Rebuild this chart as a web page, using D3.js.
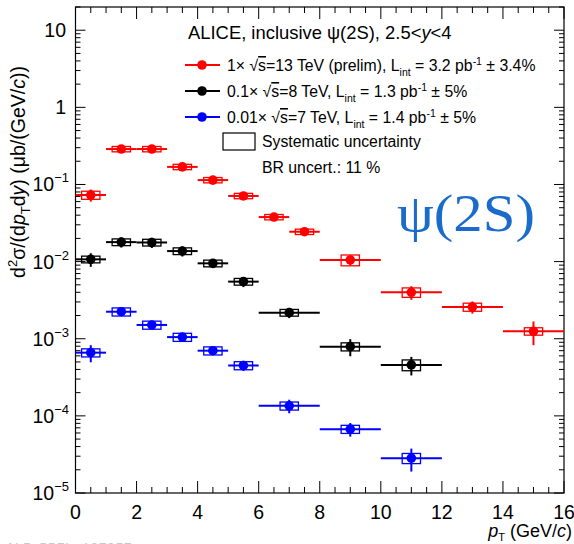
<!DOCTYPE html>
<html>
<head>
<meta charset="utf-8">
<script src="https://cdn.jsdelivr.net/npm/d3@7"></script>
<style>
  body { margin: 0; background: #fff; }
  svg { font-family: "Liberation Sans", Arial, sans-serif; }
</style>
</head>
<body>
<div id="chart"></div>
<script>
// bin edges and values (ub/(GeV/c))
var edges13 = [0, 1, 2, 3, 4, 5, 6, 7, 8, 10, 12, 14, 16];
var val13 = [0.073, 0.288, 0.288, 0.169, 0.114, 0.071, 0.0378, 0.0244, 0.0105, 0.0040, 0.00258, 0.00125];
var stat13 = [0.18, 0.04, 0.04, 0.05, 0.05, 0.06, 0.08, 0.08, 0.15, 0.2, 0.18, 0.34];
var syst13 = [0.12, 0.08, 0.08, 0.08, 0.08, 0.08, 0.08, 0.08, 0.16, 0.14, 0.12, 0.11];

var edges8 = [0, 1, 2, 3, 4, 5, 6, 8, 10, 12];
var val8 = [0.0107, 0.0179, 0.0177, 0.0137, 0.0095, 0.0055, 0.00218, 0.00079, 0.000458];
var stat8 = [0.2, 0.15, 0.15, 0.15, 0.13, 0.15, 0.15, 0.25, 0.27];
var syst8 = [0.1, 0.1, 0.1, 0.1, 0.1, 0.1, 0.1, 0.12, 0.16];

var edges7 = [0, 1, 2, 3, 4, 5, 6, 8, 10, 12];
var val7 = [0.00066, 0.00224, 0.00151, 0.00105, 0.0007, 0.00045, 0.000135, 0.0000673, 0.0000283];
var stat7 = [0.25, 0.1, 0.12, 0.12, 0.1, 0.15, 0.2, 0.2, 0.33];
var syst7 = [0.12, 0.12, 0.12, 0.12, 0.12, 0.12, 0.12, 0.12, 0.15];

var xTicks = [0, 2, 4, 6, 8, 10, 12, 14, 16];
var yExp = [1, 0, -1, -2, -3, -4, -5];

var svgWidth = 574, svgHeight = 544;
var mLeft = 75.5, mRight = 564, mTop = 7, mBottom = 493;

var svg = d3.select("#chart").append("svg")
  .attr("width", svgWidth)
  .attr("height", svgHeight);

var x = d3.scaleLinear().domain([0, 16]).range([mLeft, mRight]);
var y = d3.scaleLog().domain([1e-5, 20]).range([mBottom, mTop]);

// frame
svg.append("rect")
  .attr("x", mLeft).attr("y", mTop)
  .attr("width", mRight - mLeft).attr("height", mBottom - mTop)
  .attr("fill", "none").attr("stroke", "#000").attr("stroke-width", 1.2);

// x ticks (inside, top and bottom)
var xMinor = d3.range(0, 16.01, 0.5);
xMinor.forEach(function(v) {
  var major = (v % 2 === 0);
  var len = major ? 12 : 6;
  svg.append("line").attr("x1", x(v)).attr("x2", x(v))
    .attr("y1", mBottom).attr("y2", mBottom - len).attr("stroke", "#000");
  svg.append("line").attr("x1", x(v)).attr("x2", x(v))
    .attr("y1", mTop).attr("y2", mTop + len).attr("stroke", "#000");
});

svg.selectAll(".xlab").data(xTicks).enter().append("text")
  .attr("x", d => x(d))
  .attr("y", 519)
  .attr("text-anchor", "middle")
  .attr("font-size", 19.5)
  .text(d => d);

// y ticks (log)
var yTickVals = y.ticks().filter(d => d >= 1e-5 && d <= 20);
yTickVals.forEach(function(v) {
  var lg = Math.log10(v);
  var major = Math.abs(lg - Math.round(lg)) < 1e-6;
  var len = major ? 10 : 5;
  svg.append("line").attr("x1", mLeft).attr("x2", mLeft + len)
    .attr("y1", y(v)).attr("y2", y(v)).attr("stroke", "#000");
  svg.append("line").attr("x1", mRight).attr("x2", mRight - len)
    .attr("y1", y(v)).attr("y2", y(v)).attr("stroke", "#000");
});

yExp.forEach(function(e) {
  var t = svg.append("text")
    .attr("x", 69)
    .attr("y", y(Math.pow(10, e)) + 7)
    .attr("text-anchor", "end")
    .attr("font-size", 19.5);
  if (e === 1) t.attr("x", 66).text("10");
  else if (e === 0) t.attr("x", 66).text("1");
  else {
    t.append("tspan").text("10");
    t.append("tspan").attr("dy", -9).attr("font-size", 13).text("\u2212" + (-e));
  }
});

// axis titles
var yl = svg.append("text")
  .attr("transform", "translate(25,172) rotate(-90)")
  .attr("text-anchor", "middle")
  .attr("font-size", 19.5);
yl.append("tspan").text("d");
yl.append("tspan").attr("dy", -8).attr("font-size", 13).text("2");
yl.append("tspan").attr("dy", 8).text("\u03c3/(d");
yl.append("tspan").attr("font-style", "italic").text("p");
yl.append("tspan").attr("dy", 5).attr("font-size", 13).text("T");
yl.append("tspan").attr("dy", -5).text("d");
yl.append("tspan").attr("font-style", "italic").text("y");
yl.append("tspan").text(") (\u03bcb/(GeV/");
yl.append("tspan").attr("font-style", "italic").text("c");
yl.append("tspan").text("))");

var xl = svg.append("text")
  .attr("x", 572).attr("y", 537)
  .attr("text-anchor", "end")
  .attr("font-size", 18);
xl.append("tspan").attr("font-style", "italic").text("p");
xl.append("tspan").attr("dy", 4).attr("font-size", 11).text("T");
xl.append("tspan").attr("dy", -4).text(" (GeV/");
xl.append("tspan").attr("font-style", "italic").text("c");
xl.append("tspan").text(")");

// data series
function drawSeries(edges, vals, stat, syst, color) {
  var pts = vals.map(function(v, i) {
    return { lo: edges[i], hi: edges[i + 1], c: (edges[i] + edges[i + 1]) / 2, v: v, st: stat[i], sy: syst[i] };
  });
  var g = svg.append("g");
  g.selectAll(".hbar").data(pts).enter().append("line")
    .attr("x1", d => x(d.lo)).attr("x2", d => x(d.hi))
    .attr("y1", d => y(d.v)).attr("y2", d => y(d.v))
    .attr("stroke", color).attr("stroke-width", 2);
  g.selectAll(".vbar").data(pts).enter().append("line")
    .attr("x1", d => x(d.c)).attr("x2", d => x(d.c))
    .attr("y1", d => y(d.v * (1 + d.st))).attr("y2", d => y(d.v * (1 - d.st)))
    .attr("stroke", color).attr("stroke-width", 2);
  g.selectAll(".box").data(pts).enter().append("rect")
    .attr("x", d => x(d.c - 0.3)).attr("width", d => x(d.c + 0.3) - x(d.c - 0.3))
    .attr("y", d => y(d.v * (1 + d.sy)))
    .attr("height", d => y(d.v * (1 - d.sy)) - y(d.v * (1 + d.sy)))
    .attr("fill", "none").attr("stroke", color).attr("stroke-width", 1.3);
  g.selectAll(".dot").data(pts).enter().append("circle")
    .attr("cx", d => x(d.c)).attr("cy", d => y(d.v))
    .attr("r", 4.8).attr("fill", color);
}

drawSeries(edges13, val13, stat13, syst13, "#ff0000");
drawSeries(edges8, val8, stat8, syst8, "#000000");
drawSeries(edges7, val7, stat7, syst7, "#0000ff");

// legend
var title = svg.append("text").attr("x", 188).attr("y", 39).attr("font-size", 18.4);
title.append("tspan").text("ALICE, inclusive \u03c8(2S), 2.5<");
title.append("tspan").attr("font-style", "italic").text("y");
title.append("tspan").text("<4");

var legRows = [
  { color: "#ff0000", k: "1\u00d7 ", e: "=13 TeV (prelim), L", l: " = 3.2 pb", u: " \u00b1 3.4%", yy: 65 },
  { color: "#000000", k: "0.1\u00d7 ", e: "=8 TeV, L", l: " = 1.3 pb", u: " \u00b1 5%", yy: 91 },
  { color: "#0000ff", k: "0.01\u00d7 ", e: "=7 TeV, L", l: " = 1.4 pb", u: " \u00b1 5%", yy: 117 }
];
legRows.forEach(function(r) {
  svg.append("line").attr("x1", 185).attr("x2", 220).attr("y1", r.yy).attr("y2", r.yy)
    .attr("stroke", r.color).attr("stroke-width", 2);
  svg.append("circle").attr("cx", 202).attr("cy", r.yy).attr("r", 4.8).attr("fill", r.color);
  var t = svg.append("text").attr("x", 227).attr("y", r.yy + 6).attr("font-size", 15.8);
  t.append("tspan").text(r.k + "\u221a");
  t.append("tspan").style("text-decoration", "overline").text("s");
  t.append("tspan").text(r.e);
  t.append("tspan").attr("dy", 5).attr("font-size", 10.5).text("int");
  t.append("tspan").attr("dy", -5).text(r.l);
  t.append("tspan").attr("dy", -6).attr("font-size", 10.5).text("-1");
  t.append("tspan").attr("dy", 6).text(r.u);
});

svg.append("rect").attr("x", 223).attr("y", 133).attr("width", 32).attr("height", 17)
  .attr("fill", "none").attr("stroke", "#000").attr("stroke-width", 1.2);
svg.append("text").attr("x", 262).attr("y", 147).attr("font-size", 15.8).text("Systematic uncertainty");
svg.append("text").attr("x", 262).attr("y", 173).attr("font-size", 15.8).text("BR uncert.: 11 %");

// big label
svg.append("text")
  .attr("x", 397).attr("y", 231)
  .style("font-family", "'Liberation Serif', 'Times New Roman', serif")
  .attr("font-size", 53)
  .attr("textLength", 138)
  .attr("lengthAdjust", "spacingAndGlyphs")
  .attr("fill", "#1a6bcc")
  .text("\u03c8(2S)");

// preliminary tag, mostly cut off at the bottom
svg.append("text")
  .attr("x", 6).attr("y", 553)
  .style("font-family", "'Liberation Mono', monospace")
  .attr("font-size", 14)
  .attr("fill", "#c8c8c8")
  .text("ALI-PREL-107957");
</script>
</body>
</html>
